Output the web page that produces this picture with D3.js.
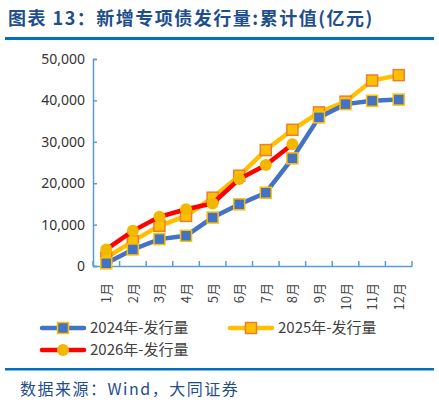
<!DOCTYPE html>
<html><head><meta charset="utf-8">
<script src="https://cdn.jsdelivr.net/npm/d3@7"></script>
<style>body{margin:0;background:#fff}svg{display:block}</style>
</head><body><svg id="c" width="439" height="411"></svg>
<script>
const months=["1月","2月","3月","4月","5月","6月","7月","8月","9月","10月","11月","12月"];
const yTicks=[0,10000,20000,30000,40000,50000];
const s2024=[650,4000,6500,7300,11700,14900,17700,26000,35900,39100,39900,40200];
const s2025=[2000,6000,9700,12100,16500,21800,28000,32900,37100,39700,44800,46100];
const s2026=[4000,8500,11900,13700,15100,21000,24400,29400];
const svg=d3.select("#c");
const F="'Noto Sans CJK SC','Noto Sans',sans-serif";
svg.append("text").attr("x",8).attr("y",25).attr("font-family",F).attr("font-weight","bold").attr("font-size",18).attr("letter-spacing",1.5).attr("fill","#1f4e8c").text("图表 13：新增专项债发行量:累计值(亿元)");
svg.append("rect").attr("x",5).attr("y",37).attr("width",429).attr("height",3).attr("fill","#0070c0");
svg.append("rect").attr("x",5).attr("y",368).attr("width",429).attr("height",2.5).attr("fill","#0070c0");
svg.append("text").attr("x",20).attr("y",395).attr("font-family",F).attr("font-size",16).attr("letter-spacing",1.5).attr("fill","#1f4e8c").text("数据来源：Wind，大同证券");
const x=d3.scaleBand().domain(months).range([93,412]);
const y=d3.scaleLinear().domain([0,50000]).range([266,59]);
const ac="#5b9bd5";
const ya=svg.append("g").attr("transform","translate(93,0)").call(d3.axisLeft(y).tickValues(yTicks).tickFormat(d3.format(",")).tickSize(-4).tickPadding(8));
ya.selectAll("text").attr("font-family","'Noto Sans',sans-serif").attr("font-size",14).attr("fill","#333");
ya.selectAll("line,path").attr("stroke",ac).attr("stroke-width",1.5);
const xa=svg.append("g").attr("transform","translate(0,266)").call(d3.axisBottom(x).tickSize(0).tickFormat(""));
xa.select("path").attr("stroke",ac).attr("stroke-width",1.5);
svg.append("g").selectAll("line").data(months.concat(["end"])).join("line")
 .attr("x1",(d,i)=>93+i*x.step()).attr("x2",(d,i)=>93+i*x.step()).attr("y1",266).attr("y2",261).attr("stroke",ac).attr("stroke-width",1.5);
svg.append("g").selectAll("text").data(months).join("text")
 .attr("transform",d=>`translate(${x(d)+x.bandwidth()/2+5},283) rotate(-90)`)
 .attr("text-anchor","end").attr("font-family",F).attr("font-size",13).attr("fill","#444").text(d=>d);
const line=d3.line().x((d,i)=>x(months[i])+x.bandwidth()/2).y(d=>y(d));
function sq(g,data,fill,stroke){g.selectAll("rect.m").data(data).join("rect").attr("class","m")
 .attr("x",(d,i)=>x(months[i])+x.bandwidth()/2-5.5).attr("y",d=>y(d)-5.5).attr("width",11).attr("height",11)
 .attr("fill",fill).attr("stroke",stroke).attr("stroke-width",1.5);}
const g24=svg.append("g");
g24.append("path").datum(s2024).attr("d",line).attr("fill","none").attr("stroke","#4472c4").attr("stroke-width",4.5);
const g25=svg.append("g");
g25.append("path").datum(s2025).attr("d",line).attr("fill","none").attr("stroke","#ffc000").attr("stroke-width",4.5);
sq(g25,s2025,"#ffc000","#ed7d31");
const g26=svg.append("g");
g26.append("path").datum(s2026).attr("d",line).attr("fill","none").attr("stroke","#ff0000").attr("stroke-width",4.5);
g26.selectAll("circle").data(s2026).join("circle").attr("cx",(d,i)=>x(months[i])+x.bandwidth()/2).attr("cy",d=>y(d)).attr("r",6).attr("fill","#f2b800");
sq(g24,s2024,"#4472c4","#ffc000");
g24.raise();
g24.select("path").lower();
const L=[{t:"2024年-发行量",lx:42,ly:328,c:"#4472c4",m:"sq",f:"#4472c4",s:"#ffc000"},
{t:"2025年-发行量",lx:230,ly:328,c:"#ffc000",m:"sq",f:"#ffc000",s:"#ed7d31"},
{t:"2026年-发行量",lx:42,ly:350,c:"#ff0000",m:"ci",f:"#f2b800"}];
const lg=svg.append("g").selectAll("g").data(L).join("g");
lg.append("line").attr("x1",d=>d.lx).attr("x2",d=>d.lx+42).attr("y1",d=>d.ly).attr("y2",d=>d.ly).attr("stroke",d=>d.c).attr("stroke-width",4.5).attr("stroke-linecap","round");
lg.filter(d=>d.m=="sq").append("rect").attr("x",d=>d.lx+15.5).attr("y",d=>d.ly-5.5).attr("width",11).attr("height",11).attr("fill",d=>d.f).attr("stroke",d=>d.s).attr("stroke-width",1.5);
lg.filter(d=>d.m=="ci").append("circle").attr("cx",d=>d.lx+21).attr("cy",d=>d.ly).attr("r",6).attr("fill",d=>d.f);
lg.append("text").attr("x",d=>d.lx+48).attr("y",d=>d.ly+5).attr("font-family",F).attr("font-size",15).attr("fill","#404040").text(d=>d.t);
</script></body></html>
